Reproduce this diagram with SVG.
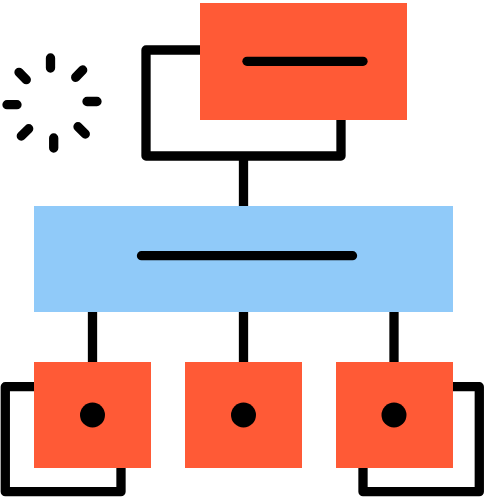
<svg xmlns="http://www.w3.org/2000/svg" width="485" height="498" viewBox="0 0 485 498">
<style>
.ln{fill:none;stroke:#000;stroke-width:9.300;stroke-linejoin:round;stroke-linecap:round}
.cn{fill:none;stroke:#000;stroke-width:9.300;stroke-linejoin:round;stroke-linecap:butt}
.o{fill:#ff5a36}
.b{fill:#90caf9}
.d{fill:#000}
</style>
<rect width="485" height="498" fill="#fff"/>
<g id="connectors">
<path class="cn" d="M205 50H146V156H341V115"/>
<path class="cn" d="M243.500 156V210"/>
<path class="cn" d="M92.500 308V366"/>
<path class="cn" d="M243.500 308V366"/>
<path class="cn" d="M394 308V366"/>
<path class="cn" d="M39 386.700H5.300V491.700H121V463"/>
<path class="cn" d="M448 386.700H479.300V491.700H363V463"/>
</g>
<g id="spinner">
<path class="ln" d="M50.500 58V68M97 101.500H87M53.700 138V148M7 104.700H17M75.700 77.300L82.700 70M19 72.300L26.300 79.700M78 126.700L85.300 134M21.300 136L28.700 128.700"/>
</g>
<g id="node-top">
<rect class="o" x="200" y="3" width="207" height="117"/>
<path class="ln" d="M247 61.300H363"/>
</g>
<g id="node-middle">
<rect class="b" x="34" y="206" width="419" height="106"/>
<path class="ln" d="M141.500 255.700H352.500"/>
</g>
<g id="node-left">
<rect class="o" x="34" y="362" width="117" height="106"/>
<circle class="d" cx="92.500" cy="415" r="12.500"/>
</g>
<g id="node-center">
<rect class="o" x="185" y="362" width="117" height="106"/>
<circle class="d" cx="243.500" cy="415" r="12.500"/>
</g>
<g id="node-right">
<rect class="o" x="336" y="362" width="117" height="106"/>
<circle class="d" cx="394" cy="415" r="12.500"/>
</g>
</svg>
